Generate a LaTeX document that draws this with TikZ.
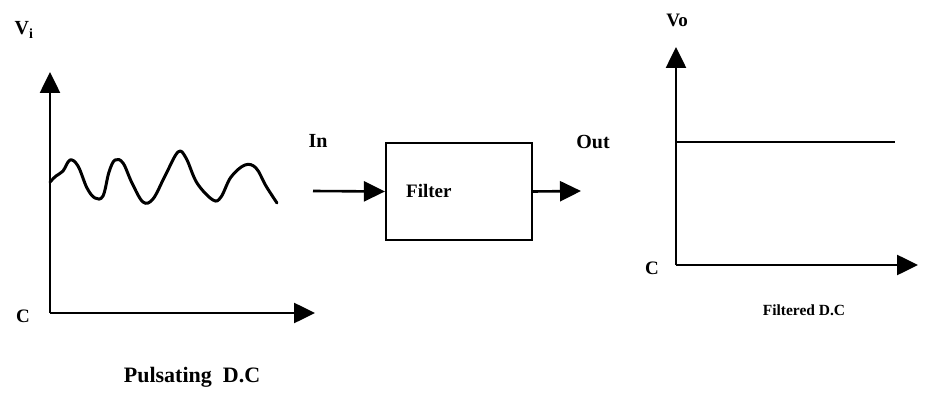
\documentclass[tikz,border=0pt]{standalone}
\usepackage{fontspec}
\setmainfont{Liberation Serif}
\usetikzlibrary{arrows.meta}
\begin{document}
\begin{tikzpicture}[x=1pt,y=-1pt,
  axis/.style={line width=2.6pt,-{Triangle[length=21pt,width=20pt]}},
  sig/.style={line width=3pt,line cap=round,line join=round},
  lbl/.style={font=\bfseries\fontsize{19}{21}\selectfont,inner sep=0pt},
  boxst/.style={draw,line width=2.2pt,minimum width=146pt,minimum height=97pt,inner sep=0pt}]
\useasboundingbox (0,0) rectangle (938,409);
% left graph
\coordinate (o1) at (50,313);
\coordinate (y1) at (50,72);
\coordinate (x1) at (315,313);
\draw[axis] (o1) -- (y1);
\draw[axis] (o1) -- (x1);
\draw[sig] plot[smooth,tension=0.6] coordinates {(50,182) (56,176) (63,171) (70,160) (78,166) (87,188) (95,198) (103,196) (109,172) (115,160) (123,163) (132,183) (143,202) (153,199) (165,176) (178,152) (186,158) (197,183) (213,200) (221,197) (231,177) (245,165) (256,168) (266,186) (277,203)};
\node[lbl,font=\bfseries\fontsize{20}{22}\selectfont] (vi) at (24,30) {V$_{\mathbf{i}}$};
\node[lbl] (c1) at (23,316) {C};
\node[lbl,font=\bfseries\fontsize{22}{24}\selectfont] (pdc) at (192,377) {Pulsating\enspace D.C};
% filter block
\node[boxst] (filt) at (459,191.5) {};
\node[lbl,anchor=west] (ftxt) at (406,191) {Filter};
\coordinate (inS) at (313,191);
\coordinate (outE) at (581,191);
\draw[axis] (inS) -- (filt.west);
\draw[axis] (filt.east) -- (outE);
\node[lbl,font=\bfseries\fontsize{20}{22}\selectfont] (in) at (318,141) {In};
\node[lbl,font=\bfseries\fontsize{20}{22}\selectfont] (out) at (593,142) {Out};
% right graph
\coordinate (o2) at (676,265);
\coordinate (y2) at (676,47);
\coordinate (x2) at (918,265);
\coordinate (dcS) at (676,142);
\coordinate (dcE) at (895,142);
\draw[axis] (o2) -- (y2);
\draw[axis] (o2) -- (x2);
\draw[line width=2.6pt] (dcS) -- (dcE);
\node[lbl] (vo) at (677,20) {Vo};
\node[lbl] (c2) at (652,268) {C};
\node[lbl,font=\bfseries\fontsize{15.5}{17}\selectfont] (fdc) at (804,310) {Filtered D.C};
\end{tikzpicture}
\end{document}
